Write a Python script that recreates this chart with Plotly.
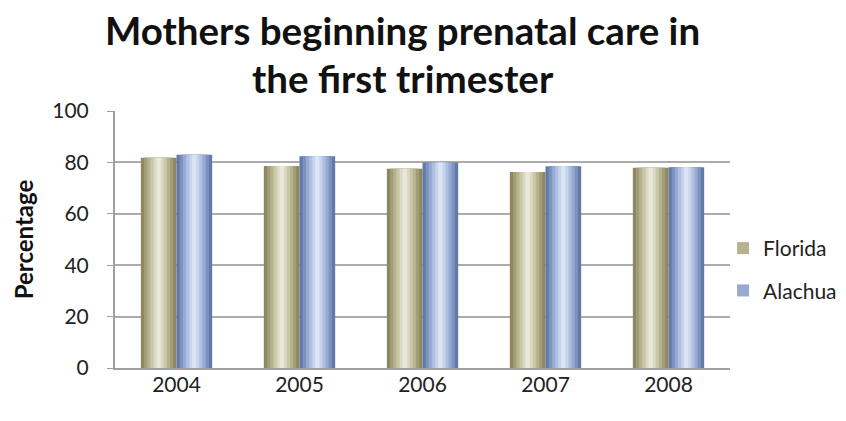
import plotly.graph_objects as go

years = ["2004", "2005", "2006", "2007", "2008"]
florida = [81.8, 78.6, 77.5, 76.3, 77.9]
alachua = [83.0, 82.4, 80.0, 78.5, 78.1]
y_ticks = [0, 20, 40, 60, 80, 100]
title_lines = ["Mothers beginning prenatal care in", "the first trimester"]

fig = go.Figure()

bar_w = 0.29
layers_fl = [("#8c8960", 1.0), ("#a19e76", 0.82), ("#b6b38e", 0.64),
             ("#cac7a8", 0.46), ("#dbd9c3", 0.28), ("#e9e8da", 0.12)]
layers_al = [("#6479a8", 1.0), ("#7d92c0", 0.82), ("#96aad2", 0.64),
             ("#afc0e0", 0.46), ("#c7d4ec", 0.28), ("#dbe4f4", 0.12)]

def add_series(name, vals, layers, base_offset):
    for i, (col, frac) in enumerate(layers):
        w = bar_w * frac
        off = base_offset + (bar_w - w) / 2
        fig.add_trace(go.Bar(
            x=years, y=vals, name=name, width=w, offset=off,
            marker=dict(color=col, line=dict(width=0)),
            showlegend=(i == 2), legendgroup=name, hoverinfo="y",
        ))

add_series("Florida", florida, layers_fl, -bar_w)
add_series("Alachua", alachua, layers_al, 0.0)

# the page body pushes the figure 8px down
PAD = 8
plot_left, plot_right = 107, 729
plot_top, plot_bottom = 111, 368
plot_h = plot_bottom - plot_top
plot_w = plot_right - plot_left

def ypix(p):
    return (plot_bottom - p) / plot_h

def xpix(p):
    return (p - plot_left) / plot_w

for txt, pix in zip(title_lines, [30, 78]):
    fig.add_annotation(
        text="<b>" + txt + "</b>", xref="paper", yref="paper",
        x=xpix(398), y=ypix(pix), xanchor="center", yanchor="middle",
        showarrow=False, font=dict(size=38.5, family="Lato, sans-serif", color="#111111"),
    )

fig.update_layout(
    width=846, height=421 - PAD,
    barmode="overlay",
    paper_bgcolor="white", plot_bgcolor="white",
    margin=dict(l=plot_left, r=846 - plot_right, t=plot_top - PAD, b=421 - plot_bottom),
    font=dict(family="Lato, Calibri, sans-serif", color="#222222"),
    legend=dict(
        x=xpix(722), xanchor="left", y=ypix(269.5), yanchor="middle",
        font=dict(size=21, color="#222222"),
        tracegroupgap=12, itemwidth=30, bgcolor="rgba(0,0,0,0)",
    ),
    xaxis=dict(
        type="category", showgrid=False, showline=True, linecolor="#a0a0a0", linewidth=2,
        ticks="", tickfont=dict(size=21, color="#222222"), ticklabelstandoff=-3,
    ),
    yaxis=dict(
        range=[0, 100], tickvals=y_ticks, showgrid=True, gridcolor="#acacac", gridwidth=1.5,
        showline=True, linecolor="#a0a0a0", linewidth=2, ticks="outside", ticklen=6,
        tickcolor="#a0a0a0", tickfont=dict(size=21, color="#222222"), zeroline=False,
        ticklabelstandoff=14,
        title=dict(text="<b>Percentage</b>", font=dict(size=24, color="#111111"), standoff=12),
    ),
)

fig.write_html("out.html")
